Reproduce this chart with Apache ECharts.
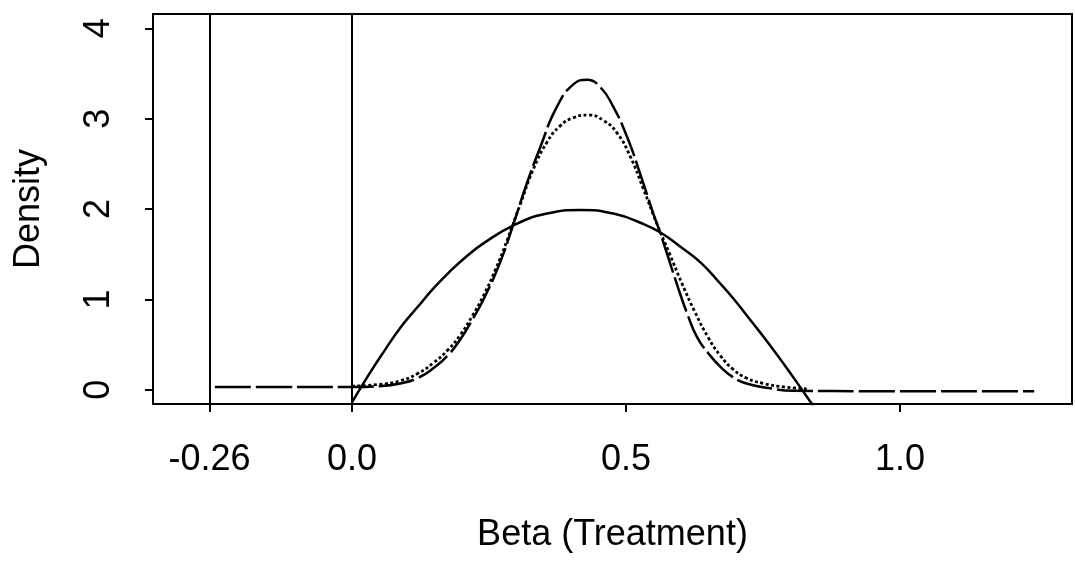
<!DOCTYPE html>
<html>
<head>
<meta charset="utf-8">
<script src="https://cdn.jsdelivr.net/npm/echarts@6/dist/echarts.min.js"></script>
<style>
  html, body { margin: 0; padding: 0; background: #fff; }
  #chart { width: 1075px; height: 575px; }
</style>
</head>
<body>
<div id="chart"></div>
<script>
// ---- data ----
const xTickValues = [-0.26, 0, 0.5, 1.0];
const xTickLabels = ['-0.26', '0.0', '0.5', '1.0'];
const yTickValues = [0, 1, 2, 3, 4];
const yTickLabels = ['0', '1', '2', '3', '4'];
const refLines = [-0.26, 0];

// tall long-dashed density
const tallX = [-0.25, -0.12, 0.0, 0.05, 0.088, 0.12, 0.149, 0.175, 0.198, 0.220, 0.240, 0.271, 0.295, 0.319, 0.344, 0.374, 0.404, 0.429, 0.453, 0.477, 0.502, 0.526, 0.550, 0.564, 0.593, 0.612, 0.630, 0.651, 0.673, 0.695, 0.720, 0.760, 0.806, 0.95, 1.245];
const tallY = [0.03, 0.03, 0.03, 0.04, 0.07, 0.13, 0.24, 0.38, 0.56, 0.78, 1.00, 1.42, 1.84, 2.28, 2.69, 3.13, 3.38, 3.43, 3.35, 3.13, 2.80, 2.39, 1.95, 1.71, 1.17, 0.84, 0.58, 0.40, 0.25, 0.14, 0.07, 0.02, -0.01, -0.015, -0.015];

// dotted density
const dotX = [0.0, 0.05, 0.088, 0.12, 0.149, 0.175, 0.198, 0.220, 0.240, 0.262, 0.283, 0.307, 0.331, 0.356, 0.380, 0.404, 0.432, 0.459, 0.484, 0.508, 0.532, 0.555, 0.580, 0.602, 0.626, 0.650, 0.672, 0.695, 0.720, 0.751, 0.790, 0.830];
const dotY = [0.04, 0.06, 0.10, 0.18, 0.30, 0.44, 0.61, 0.82, 1.04, 1.33, 1.65, 2.05, 2.44, 2.74, 2.92, 3.01, 3.04, 2.98, 2.84, 2.58, 2.22, 1.86, 1.50, 1.18, 0.86, 0.58, 0.38, 0.23, 0.13, 0.07, 0.03, 0.01];

// wide solid density
const wideX = [0.000, 0.030, 0.058, 0.090, 0.119, 0.150, 0.179, 0.210, 0.240, 0.295, 0.356, 0.417, 0.477, 0.530, 0.563, 0.600, 0.636, 0.670, 0.696, 0.730, 0.757, 0.790, 0.818, 0.842];
const wideY = [-0.14, 0.16, 0.42, 0.70, 0.91, 1.13, 1.31, 1.48, 1.62, 1.82, 1.95, 1.99, 1.95, 1.84, 1.74, 1.58, 1.41, 1.19, 1.01, 0.75, 0.54, 0.27, 0.03, -0.18];

const xName = 'Beta (Treatment)';
const yName = 'Density';

// ---- chart ----
const zip = (xs, ys) => xs.map((x, i) => [x, ys[i]]);
const FONT = '"Liberation Sans", Arial, Helvetica, sans-serif';
const labelFor = (vals, labels) => (v) => {
  const i = vals.findIndex(t => Math.abs(t - v) < 1e-9);
  return i >= 0 ? labels[i] : '';
};

const chart = echarts.init(document.getElementById('chart'), null, { renderer: 'canvas' });
chart.setOption({
  animation: false,
  backgroundColor: '#ffffff',
  grid: {
    left: 153, top: 14, width: 919, height: 390,
    show: true, borderColor: '#000', borderWidth: 2, backgroundColor: 'transparent',
    containLabel: false, outerBoundsMode: 'none'
  },
  xAxis: {
    type: 'value', min: -0.363, max: 1.314,
    name: xName, nameLocation: 'middle', nameGap: 113,
    nameTextStyle: { fontFamily: FONT, fontSize: 36, color: '#000' },
    axisLine: { show: false, onZero: false },
    splitLine: { show: false },
    axisTick: { show: true, inside: false, length: 8, customValues: xTickValues, lineStyle: { color: '#000', width: 2 } },
    axisLabel: { customValues: xTickValues, formatter: labelFor(xTickValues, xTickLabels),
      fontFamily: FONT, fontSize: 36, color: '#000', margin: 38 }
  },
  yAxis: {
    type: 'value', min: -0.157, max: 4.158,
    name: yName, nameLocation: 'middle', nameGap: 106,
    nameTextStyle: { fontFamily: FONT, fontSize: 36, color: '#000' },
    axisLine: { show: false, onZero: false },
    splitLine: { show: false },
    axisTick: { show: true, inside: false, length: 8, customValues: yTickValues, lineStyle: { color: '#000', width: 2 } },
    axisLabel: { customValues: yTickValues, formatter: labelFor(yTickValues, yTickLabels), rotate: 90,
      fontFamily: FONT, fontSize: 36, color: '#000', margin: 36 }
  },
  series: [
    {
      type: 'line', name: 'wide', data: zip(wideX, wideY), smooth: 0.5, symbol: 'none',
      lineStyle: { color: '#000', width: 2.5, type: 'solid' }, clip: true,
      markLine: {
        silent: true, symbol: 'none', label: { show: false },
        lineStyle: { color: '#000', width: 2, type: 'solid' },
        data: refLines.map(v => ({ xAxis: v }))
      }
    },
    {
      type: 'line', name: 'dotted', data: zip(dotX, dotY), smooth: 0.5, symbol: 'none',
      lineStyle: { color: '#000', width: 2.8, type: [3, 2.5] }, clip: true
    },
    {
      type: 'line', name: 'tall', data: zip(tallX, tallY), smooth: 0.5, symbol: 'none',
      lineStyle: { color: '#000', width: 2.5, type: [36, 5] }, clip: true
    }
  ]
});
</script>
</body>
</html>
